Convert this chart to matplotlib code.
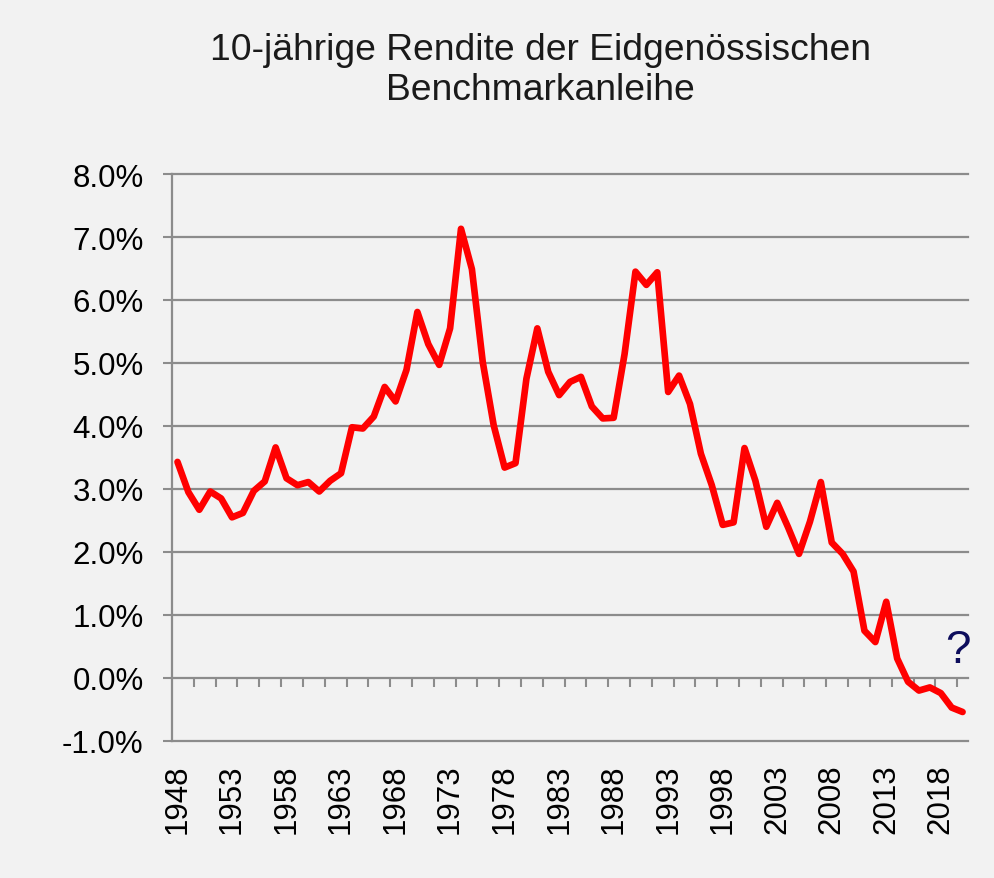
import numpy as np
import matplotlib.pyplot as plt

plt.rcParams['font.family'] = ['Liberation Sans', 'DejaVu Sans']

years = list(range(1948, 2021))
rendite = [3.43, 2.95, 2.67, 2.96, 2.85, 2.55, 2.62, 2.97, 3.12, 3.66,
           3.17, 3.06, 3.11, 2.96, 3.13, 3.25, 3.98, 3.96, 4.15, 4.62,
           4.39, 4.89, 5.81, 5.30, 4.97, 5.55, 7.13, 6.49, 5.01, 4.01,
           3.34, 3.41, 4.75, 5.55, 4.86, 4.49, 4.70, 4.78, 4.31, 4.12,
           4.13, 5.14, 6.45, 6.24, 6.44, 4.54, 4.80, 4.35, 3.56, 3.06,
           2.43, 2.47, 3.65, 3.13, 2.40, 2.78, 2.39, 1.97, 2.48, 3.11,
           2.15, 1.97, 1.69, 0.75, 0.57, 1.21, 0.31, -0.06, -0.20, -0.15,
           -0.24, -0.47, -0.54]
y_ticks = [-1, 0, 1, 2, 3, 4, 5, 6, 7, 8]
label_step = 5

bg = '#f2f2f2'
grid_col = '#8c8c8c'
fontsize = 22.5

fig = plt.figure(figsize=(9.95, 8.79), dpi=100, facecolor=bg)
ax = fig.add_axes([0.1729, 0.1559, 0.8, 0.645], facecolor=bg)

idx = np.arange(len(years))
ax.plot(idx, rendite, color='#ff0000', lw=4.8, solid_joinstyle='round', solid_capstyle='round', zorder=3)

ax.set_xlim(-0.5, len(years) - 0.5)
ax.set_ylim(-1, 8)
ax.set_yticks(y_ticks)
ax.set_yticklabels([f'{v:.1f}%' for v in y_ticks], fontsize=fontsize)
ax.yaxis.grid(True, color=grid_col, lw=1.6)
for gl in ax.get_ygridlines():
    gl.set_clip_on(False)
ax.set_axisbelow(True)
ax.tick_params(axis='y', length=6.5, width=1.5, color=grid_col, pad=14)

ax.set_xticks(idx[::label_step])
ax.set_xticklabels([str(y) for y in years[::label_step]], rotation=90, fontsize=fontsize)
ax.tick_params(axis='x', length=0, pad=16)

for s in ['top', 'right', 'bottom']:
    ax.spines[s].set_visible(False)
ax.spines['left'].set_color(grid_col)
ax.spines['left'].set_linewidth(1.6)

# category tick marks sitting on the 0% line
sec = ax.secondary_xaxis(1 / 9)
sec.set_xticks(np.arange(1.5, len(years), 2))
sec.set_xticklabels([])
sec.tick_params(axis='x', length=6.5, width=1.5, color=grid_col, direction='out')
sec.spines['bottom'].set_visible(False)
sec.spines['top'].set_visible(False)

ax.text(71.6, 0.45, '?', fontsize=33, color='#0d0d5c', ha='center', va='center')

fig.text(0.543, 0.963, '10-jährige Rendite der Eidgenössischen\nBenchmarkanleihe',
         ha='center', va='top', fontsize=26.8, color='#1a1a1a', linespacing=1.2)

fig.savefig('out.png', dpi=100, facecolor=bg)
